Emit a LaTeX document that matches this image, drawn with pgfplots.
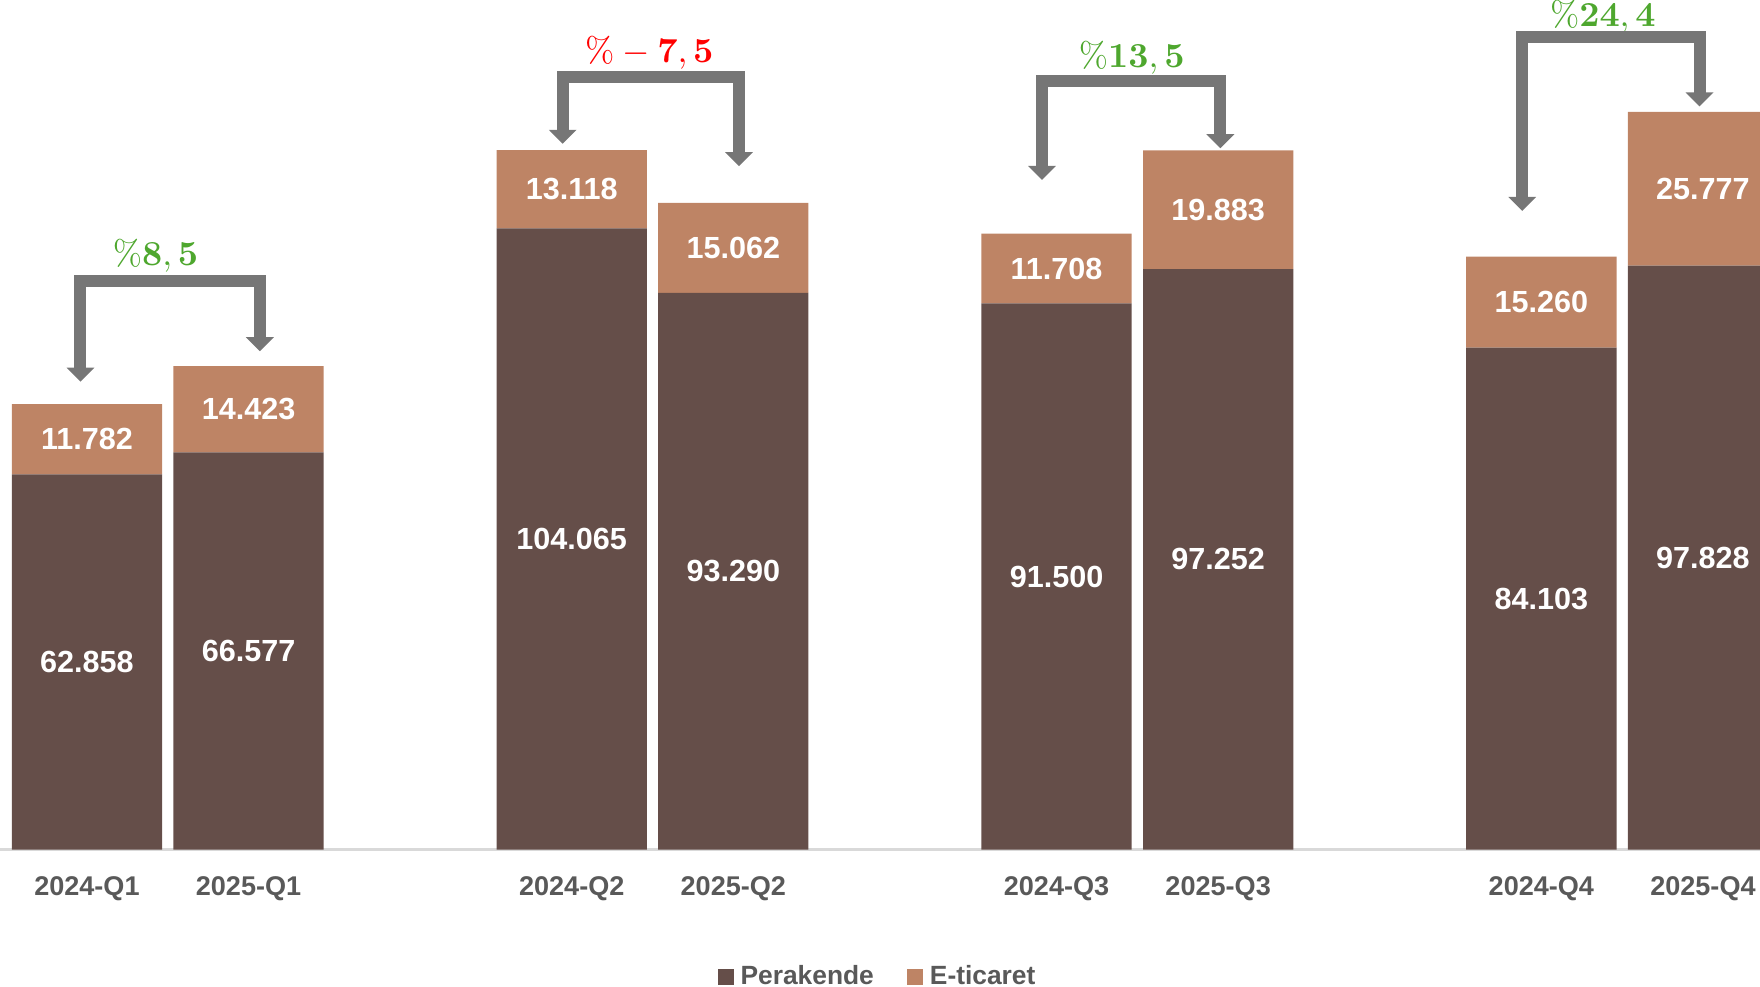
\documentclass[border=0pt]{standalone}
\usepackage[no-math]{fontspec}
\setmainfont{Liberation Sans}
\usepackage{pgfplots}
\pgfplotsset{compat=1.18}
\usepackage{pgfplotstable}
\usetikzlibrary{arrows.meta}
\definecolor{perak}{HTML}{654E49}
\definecolor{eti}{HTML}{BE8465}
\definecolor{arrc}{HTML}{767676}
\definecolor{grn}{HTML}{4EA72E}
\definecolor{redc}{HTML}{FF0000}
\definecolor{tickc}{HTML}{595959}

\pgfplotstableread{
pos P E
0 62.858 11.782
1 66.577 14.423
3 104.065 13.118
4 93.290 15.062
6 91.500 11.708
7 97.252 19.883
9 84.103 15.260
10 97.828 25.777
}\tblA

\begin{document}
\begin{tikzpicture}
\path[use as bounding box] (0,-1.363) rectangle (17.6,8.497);
\begin{axis}[
  at={(0,0)}, anchor=south west,
  scale only axis, width=17.6cm, height=8.497cm,
  xmin=-0.538, xmax=10.353, ymin=0, ymax=142.33,
  ybar stacked, bar width=0.93,
  axis y line=none, axis x line*=bottom,
  x axis line style={draw=gray!30, line width=0.8pt},
  xtick={0,1,3,4,6,7,9,10},
  xticklabels={2024-Q1,2025-Q1,2024-Q2,2025-Q2,2024-Q3,2025-Q3,2024-Q4,2025-Q4},
  major tick length=0pt,
  xticklabel style={font=\fontsize{7.7}{9}\selectfont\bfseries, text=tickc, anchor=base, yshift=-0.46cm},
  legend style={at={(0.5,-0.150)}, anchor=center, draw=none, legend columns=2,
    font=\fontsize{7.5}{9}\selectfont\bfseries, text=tickc,
    /tikz/every even column/.append style={column sep=0.26cm}},
  legend image code/.code={\fill[#1] (0cm,-0.08cm) rectangle (0.16cm,0.08cm);},
]
\addplot+[fill=perak, draw=none] table[x=pos, y=P]{\tblA};
\addlegendentry{Perakende}
\addplot+[fill=eti, draw=none] table[x=pos, y=E]{\tblA};
\addlegendentry{E-ticaret}

\draw[draw=arrc, line width=0.12cm, line join=miter, arrows={Triangle[width=0.27cm,length=0.14cm]-Triangle[width=0.27cm,length=0.14cm]}]
  (axis cs:-0.04,78.4) -- (axis cs:-0.04,95.3) -- (axis cs:1.07,95.3) -- (axis cs:1.07,83.5);
\draw[draw=arrc, line width=0.12cm, line join=miter, arrows={Triangle[width=0.27cm,length=0.14cm]-Triangle[width=0.27cm,length=0.14cm]}]
  (axis cs:2.944,118.25) -- (axis cs:2.944,129.5) -- (axis cs:4.035,129.5) -- (axis cs:4.035,114.5);
\draw[draw=arrc, line width=0.12cm, line join=miter, arrows={Triangle[width=0.27cm,length=0.14cm]-Triangle[width=0.27cm,length=0.14cm]}]
  (axis cs:5.91,112.2) -- (axis cs:5.91,128.8) -- (axis cs:7.014,128.8) -- (axis cs:7.014,117.5);
\draw[draw=arrc, line width=0.12cm, line join=miter, arrows={Triangle[width=0.27cm,length=0.14cm]-Triangle[width=0.27cm,length=0.14cm]}]
  (axis cs:8.882,107.0) -- (axis cs:8.882,136.1) -- (axis cs:9.979,136.1) -- (axis cs:9.979,124.5);
\node[text=grn, font=\fontsize{10}{12}\selectfont] at (axis cs:0.424,99.45) {$\%\mathbf{8,5}$};
\node[text=redc, font=\fontsize{10}{12}\selectfont] at (axis cs:3.48,133.5) {$\%-\mathbf{7,5}$};
\node[text=grn, font=\fontsize{10}{12}\selectfont] at (axis cs:6.465,132.7) {$\%\mathbf{13,5}$};
\node[text=grn, font=\fontsize{10}{12}\selectfont] at (axis cs:9.38,139.5) {$\%\mathbf{24,4}$};
\end{axis}
\begin{axis}[
  at={(0,0)}, anchor=south west,
  scale only axis, width=17.6cm, height=8.497cm,
  xmin=-0.538, xmax=10.353, ymin=0, ymax=142.33,
  hide axis,
  nodes near coords, point meta=explicit,
  /pgf/number format/.cd, fixed, fixed zerofill, precision=3, 1000 sep={}, assume math mode=true,
  /pgfplots/.cd,
  every node near coord/.append style={font=\fontsize{8.7}{10}\selectfont\bfseries, text=white, anchor=center},
]
\addplot[only marks, mark=none] table[x=pos, y expr=\thisrow{P}/2, meta=P]{\tblA};
\addplot[only marks, mark=none] table[x=pos, y expr=\thisrow{P}+\thisrow{E}/2, meta=E]{\tblA};
\end{axis}
\end{tikzpicture}
\end{document}
